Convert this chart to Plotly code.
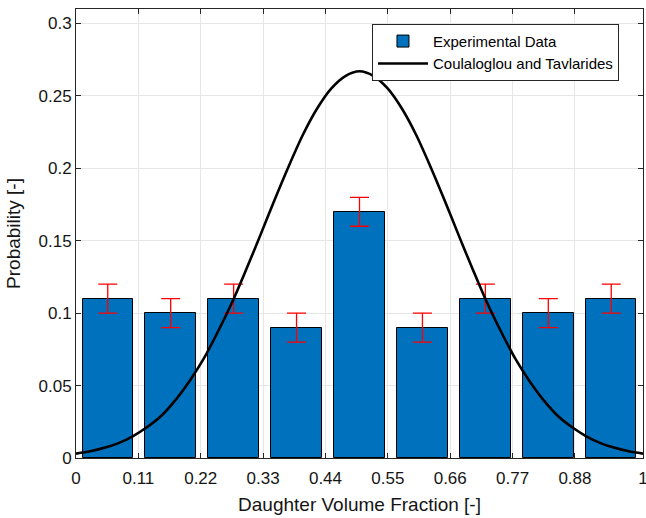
import plotly.graph_objects as go

# Data
bin_centers = [0.056, 0.167, 0.278, 0.389, 0.5, 0.611, 0.722, 0.833, 0.944]
probabilities = [0.11, 0.10, 0.11, 0.09, 0.17, 0.09, 0.11, 0.10, 0.11]
errors = [0.01, 0.01, 0.01, 0.01, 0.01, 0.01, 0.01, 0.01, 0.01]

model_x = [0, 0.025, 0.05, 0.075, 0.1, 0.125, 0.15, 0.175, 0.2, 0.225, 0.25,
           0.275, 0.3, 0.325, 0.35, 0.375, 0.4, 0.425, 0.45, 0.475, 0.5,
           0.525, 0.55, 0.575, 0.6, 0.625, 0.65, 0.675, 0.7, 0.725, 0.75,
           0.775, 0.8, 0.825, 0.85, 0.875, 0.9, 0.925, 0.95, 0.975, 1.0]
model_y = [0.003, 0.0046, 0.007, 0.0103, 0.015, 0.0212, 0.029, 0.0398, 0.053, 0.0684, 0.087,
           0.1072, 0.130, 0.1537, 0.178, 0.2013, 0.223, 0.2411, 0.255, 0.2637, 0.267,
           0.2637, 0.255, 0.2411, 0.223, 0.2013, 0.178, 0.1537, 0.130, 0.1072, 0.087,
           0.0684, 0.053, 0.0398, 0.029, 0.0212, 0.015, 0.0103, 0.007, 0.0046, 0.003]

x_ticks = [0, 0.11, 0.22, 0.33, 0.44, 0.55, 0.66, 0.77, 0.88, 1]
x_tick_labels = ["0", "0.11", "0.22", "0.33", "0.44", "0.55", "0.66", "0.77", "0.88", "1"]
y_ticks = [0, 0.05, 0.1, 0.15, 0.2, 0.25, 0.3]
y_tick_labels = ["0", "0.05", "0.1", "0.15", "0.2", "0.25", "0.3"]

font_family = "Liberation Sans, Arial, sans-serif"
axis_color = "#262626"
text_color = "#151515"

fig = go.Figure()
fig.add_trace(go.Bar(
    x=bin_centers, y=probabilities, width=0.089,
    name="Experimental Data",
    marker=dict(color="#0072BD", line=dict(color="black", width=1)),
    error_y=dict(type="data", array=errors, visible=True,
                 color="#FF0000", thickness=1.3, width=9.5),
))
fig.add_trace(go.Scatter(
    x=model_x, y=model_y, mode="lines", name="Coulaloglou and Tavlarides",
    line=dict(color="black", width=2.6, shape="spline", smoothing=0.8),
))

fig.update_layout(
    width=646, height=518,
    margin=dict(l=76, r=3, t=9, b=60, autoexpand=False),
    paper_bgcolor="white", plot_bgcolor="white",
    font=dict(family=font_family, size=17, color=text_color),
    showlegend=True,
    legend=dict(
        x=0.522, y=0.967, xanchor="left", yanchor="top",
        bgcolor="white", bordercolor="#262626", borderwidth=1,
        font=dict(size=15, color="black"),
        itemwidth=50, tracegroupgap=0,
    ),
    xaxis=dict(
        range=[0, 1], tickvals=x_ticks, ticktext=x_tick_labels,
        showgrid=True, gridcolor="#e6e6e6", gridwidth=1,
        ticks="inside", ticklen=5, tickcolor=axis_color,
        showline=True, linecolor=axis_color, linewidth=1, mirror="ticks",
        zeroline=False, automargin=False, ticklabeloverflow="allow",
        ticklabelstandoff=5,
        title=dict(text="Daughter Volume Fraction [-]", font=dict(size=19, color=text_color), standoff=10),
        tickfont=dict(size=17, color=text_color),
    ),
    yaxis=dict(
        range=[0, 0.31], tickvals=y_ticks, ticktext=y_tick_labels,
        showgrid=True, gridcolor="#e6e6e6", gridwidth=1,
        ticks="inside", ticklen=5, tickcolor=axis_color,
        showline=True, linecolor=axis_color, linewidth=1, mirror="ticks",
        zeroline=False, automargin=False, ticklabeloverflow="allow",
        title=dict(text="Probability [-]", font=dict(size=19, color=text_color), standoff=12),
        tickfont=dict(size=17, color=text_color),
    ),
    bargap=0,
)

fig.write_html(
    "out.html",
    config={"displayModeBar": False},
    post_script="document.body.style.margin='0';document.body.style.padding='0';document.body.style.overflow='hidden';",
)
